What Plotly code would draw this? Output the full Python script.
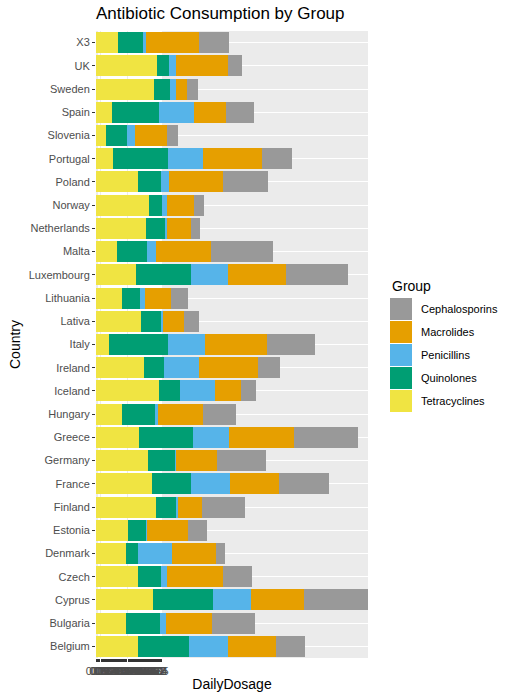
import plotly.graph_objects as go

# --- DATA (daily dosage per group) ---
countries = ["Belgium", "Bulgaria", "Cyprus", "Czech", "Denmark", "Estonia", "Finland",
             "France", "Germany", "Greece", "Hungary", "Iceland", "Ireland", "Italy",
             "Lativa", "Lithuania", "Luxembourg", "Malta", "Netherlands", "Norway",
             "Poland", "Portugal", "Slovenia", "Spain", "Sweden", "UK", "X3"]

tetracyclines = [4.2, 3.0, 5.7, 4.2, 3.0, 3.2, 6.0, 5.6, 5.2, 4.3, 2.6, 6.3, 4.8, 1.3,
                 4.5, 2.6, 4.0, 2.1, 5.0, 5.3, 4.2, 1.7, 1.0, 1.6, 5.8, 6.1, 2.2]
quinolones = [5.1, 3.4, 6.0, 2.3, 1.2, 1.8, 2.0, 3.9, 2.7, 5.4, 3.3, 2.1, 2.0, 5.9,
              2.0, 1.8, 5.5, 3.0, 1.9, 1.3, 2.3, 5.5, 2.1, 4.7, 1.6, 1.2, 2.5]
penicillins = [3.9, 0.6, 3.8, 0.6, 3.4, 0.1, 0.2, 3.9, 0.05, 3.6, 0.3, 3.5, 3.5, 3.7,
               0.2, 0.5, 3.7, 0.9, 0.2, 0.5, 0.8, 3.5, 0.8, 3.5, 0.6, 0.7, 0.3]
macrolides = [4.8, 4.6, 5.3, 5.6, 4.4, 4.1, 2.4, 4.9, 4.1, 6.5, 4.5, 2.6, 5.9, 6.2,
              2.1, 2.6, 5.8, 5.5, 2.4, 2.7, 5.4, 5.9, 3.2, 3.2, 1.1, 5.2, 5.3]
cephalosporins = [2.9, 4.3, 6.4, 2.9, 0.9, 1.9, 4.3, 5.0, 4.9, 6.4, 3.3, 1.5, 2.2, 4.8,
                  1.5, 1.7, 6.2, 6.2, 0.9, 1.0, 4.5, 3.0, 1.1, 2.8, 1.1, 1.4, 3.0]

# stacking order left -> right
groups = ["Tetracyclines", "Quinolones", "Penicillins", "Macrolides", "Cephalosporins"]
series = [tetracyclines, quinolones, penicillins, macrolides, cephalosporins]
colors = ["#F0E442", "#009E73", "#56B4E9", "#E69F00", "#999999"]

# DailyDosage was a discrete axis: one tick per distinct dosage value
dosage_levels = sorted(set(v for s in series for v in s))
dosage_labels = [str(v) for v in dosage_levels]

totals = [sum(vals) for vals in zip(*series)]

# --- page geometry (pixels) ---
W, H = 516, 700
PL, PR, PT, PB = 96, 368, 31, 658   # panel box


def px_x(p):
    return (p - PL) / (PR - PL)


def px_y(p):
    return (PB - p) / (PB - PT)


fig = go.Figure()
for name, vals, col in zip(groups, series, colors):
    fig.add_trace(go.Bar(
        y=countries,
        x=vals,
        orientation="h",
        name=name,
        marker=dict(color=col, line=dict(width=0)),
        showlegend=False,
    ))

# ggplot-style legend: big square keys, drawn as shapes
shapes = []
annotations = [dict(text="Group", xref="paper", yref="paper",
                    x=px_x(390), y=px_y(286), xanchor="left", yanchor="middle",
                    showarrow=False, font=dict(size=14, color="black"))]
legend_order = list(zip(groups, colors))[::-1]   # Cephalosporins first
for i, (name, col) in enumerate(legend_order):
    top = 298 + 23 * i
    shapes.append(dict(type="rect", xref="paper", yref="paper",
                       x0=px_x(390), x1=px_x(412), y0=px_y(top + 22), y1=px_y(top),
                       fillcolor=col, line=dict(width=0), layer="above"))
    annotations.append(dict(text=name, xref="paper", yref="paper",
                            x=px_x(419), y=px_y(top + 11), xanchor="left",
                            yanchor="middle", showarrow=False,
                            font=dict(size=11, color="black")))

fig.update_layout(
    width=W,
    height=H,
    barmode="stack",
    bargap=0.1,
    paper_bgcolor="white",
    plot_bgcolor="#EBEBEB",
    margin=dict(l=PL, r=W - PR, t=PT, b=H - PB, autoexpand=False),
    font=dict(family="Liberation Sans, Arial", color="#4D4D4D", size=11),
    title=dict(text="Antibiotic Consumption by Group", xref="container",
               x=PL / W, xanchor="left", yref="container",
               y=1 - 7 / H, yanchor="top", pad=dict(t=0, l=0, b=0, r=0),
               font=dict(size=17, color="black")),
    shapes=shapes,
    annotations=annotations,
    showlegend=False,
)

fig.update_xaxes(
    range=[0, max(totals)],
    tickmode="array",
    tickvals=dosage_levels,
    ticktext=dosage_labels,
    tickangle=0,
    ticks="outside",
    ticklen=3,
    tickcolor="#333333",
    tickfont=dict(size=11, color="#4D4D4D"),
    showgrid=True,
    gridcolor="white",
    gridwidth=1,
    zeroline=False,
    showline=False,
    automargin=False,
    title=dict(text="DailyDosage", font=dict(size=14, color="black"), standoff=2),
)

fig.update_yaxes(
    type="category",
    categoryorder="array",
    categoryarray=countries,
    ticks="outside",
    ticklen=3,
    tickcolor="#333333",
    tickfont=dict(size=11, color="#4D4D4D"),
    showgrid=True,
    gridcolor="white",
    gridwidth=1,
    zeroline=False,
    showline=False,
    automargin=False,
    title=dict(text="Country", font=dict(size=14, color="black"), standoff=4),
)

# drop the browser's default 8px page margin so the figure sits at the top-left
fig.write_html("out.html", config={"displayModeBar": False},
               post_script="document.body.style.margin = '0';")
